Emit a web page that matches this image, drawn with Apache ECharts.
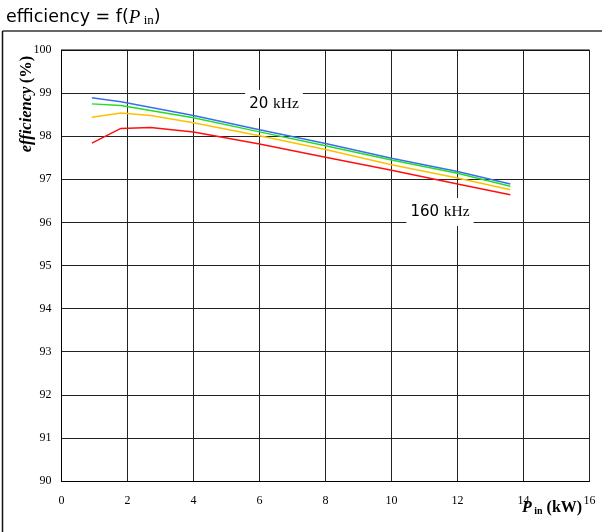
<!DOCTYPE html>
<html><head><meta charset="utf-8">
<script src="https://cdn.jsdelivr.net/npm/echarts@6/dist/echarts.min.js"></script>
<style>html,body{margin:0;padding:0;background:#fff}#c{width:602px;height:532px}</style>
</head><body><div id="c"></div>
<script>
const xTicks = [0,2,4,6,8,10,12,14,16];
const yTicks = [90,91,92,93,94,95,96,97,98,99,100];
const seriesNames = ['20 kHz','40 kHz','80 kHz','160 kHz'];
const pBlue   = [0.92,1.8,4,6,8,10,12,13.6];
const vBlue   = [98.89,98.80,98.48,98.15,97.83,97.49,97.18,96.89];
const pGreen  = [0.92,1.8,4,6,8,10,12,13.6];
const vGreen  = [98.75,98.71,98.43,98.10,97.78,97.45,97.14,96.84];
const pYellow = [0.92,1.8,2.7,4,6,8,10,12,13.6];
const vYellow = [98.44,98.54,98.48,98.31,98.01,97.69,97.34,97.03,96.76];
const pRed    = [0.92,1.8,2.7,4,6,8,10,12,13.6];
const vRed    = [97.84,98.18,98.20,98.10,97.82,97.51,97.21,96.89,96.64];
const colors = ['#3a6df0','#22dd22','#ffc000','#ff1010'];

const zip = (a,b)=>a.map((x,i)=>[x,b[i]]);
const chart = echarts.init(document.getElementById('c'));
const serif = '"Liberation Serif", "DejaVu Serif", serif';
chart.setOption({
  animation:false,
  grid:{left:61.5,right:12.5,top:50,bottom:51},
  xAxis:{type:'value',min:xTicks[0],max:xTicks[xTicks.length-1],interval:2,
    axisLine:{show:true,lineStyle:{color:'#000',width:1}},
    axisTick:{show:false},
    axisLabel:{color:'#000',fontFamily:serif,fontSize:12,margin:14},
    splitLine:{show:true,lineStyle:{color:'#222',width:1}}},
  yAxis:{type:'value',min:yTicks[0],max:yTicks[yTicks.length-1],interval:1,
    axisLine:{show:true,lineStyle:{color:'#000',width:1}},
    axisTick:{show:false},
    axisLabel:{color:'#000',fontFamily:serif,fontSize:12,margin:10},
    splitLine:{show:true,lineStyle:{color:'#222',width:1}}},
  series:[
    {name:seriesNames[0],type:'line',data:zip(pBlue,vBlue)},
    {name:seriesNames[1],type:'line',data:zip(pGreen,vGreen)},
    {name:seriesNames[2],type:'line',data:zip(pYellow,vYellow)},
    {name:seriesNames[3],type:'line',data:zip(pRed,vRed)}
  ].map((s,i)=>Object.assign(s,{symbol:'none',silent:true,color:colors[i],lineStyle:{width:1.5,color:colors[i]}})),
  graphic:[
    {type:'line',shape:{x1:2.5,y1:31,x2:602,y2:31},style:{stroke:'#333',lineWidth:1.5},z:-1},
    {type:'line',shape:{x1:2.5,y1:31,x2:2.5,y2:532},style:{stroke:'#111',lineWidth:1.5},z:-1},
    {type:'line',shape:{x1:61.5,y1:50,x2:589.5,y2:50},style:{stroke:'#000',lineWidth:1.2},z:10},
    {type:'text',left:6,top:8,style:{
      text:'{a|efficiency = f(}{p|P}{s| in}{a|)}',
      rich:{a:{fontFamily:'"DejaVu Sans", Verdana, sans-serif',fontSize:17.5,fill:'#000'},
            p:{fontFamily:serif,fontStyle:'italic',fontSize:19,fill:'#000'},
            s:{fontFamily:serif,fontSize:13,fill:'#000',verticalAlign:'bottom',padding:[7,0,0,0]}}}},
    {type:'text',x:27,y:104,rotation:Math.PI/2,style:{
      text:'{i|efficiency} {b|(%)}',align:'center',verticalAlign:'middle',
      rich:{i:{fontFamily:serif,fontStyle:'italic',fontWeight:'bold',fontSize:16.5,fill:'#000'},
            b:{fontFamily:serif,fontWeight:'bold',fontSize:16.5,fill:'#000'}}}},
    {type:'text',x:522,y:500,style:{
      text:'{p|P}{s| in}{b| (kW)}',
      rich:{p:{fontFamily:serif,fontStyle:'italic',fontWeight:'bold',fontSize:16,fill:'#000'},
            s:{fontFamily:serif,fontWeight:'bold',fontSize:10,fill:'#000',padding:[6,0,0,0]},
            b:{fontFamily:serif,fontWeight:'bold',fontSize:16,fill:'#000'}}},z:20},
    {type:'text',x:274,y:104,style:{
      text:'{n|20 }{k|kHz}',align:'center',verticalAlign:'middle',backgroundColor:'#fff',padding:[6,4,6,4],
      rich:{n:{fontFamily:'"DejaVu Sans", sans-serif',fontSize:15,fill:'#000'},
            k:{fontFamily:serif,fontSize:15.5,fill:'#000'}}},z:20},
    {type:'text',x:440,y:212,style:{
      text:'{n|160 }{k|kHz}',align:'center',verticalAlign:'middle',backgroundColor:'#fff',padding:[6,4,6,4],
      rich:{n:{fontFamily:'"DejaVu Sans", sans-serif',fontSize:15,fill:'#000'},
            k:{fontFamily:serif,fontSize:15.5,fill:'#000'}}},z:20}
  ]
});
</script></body></html>
